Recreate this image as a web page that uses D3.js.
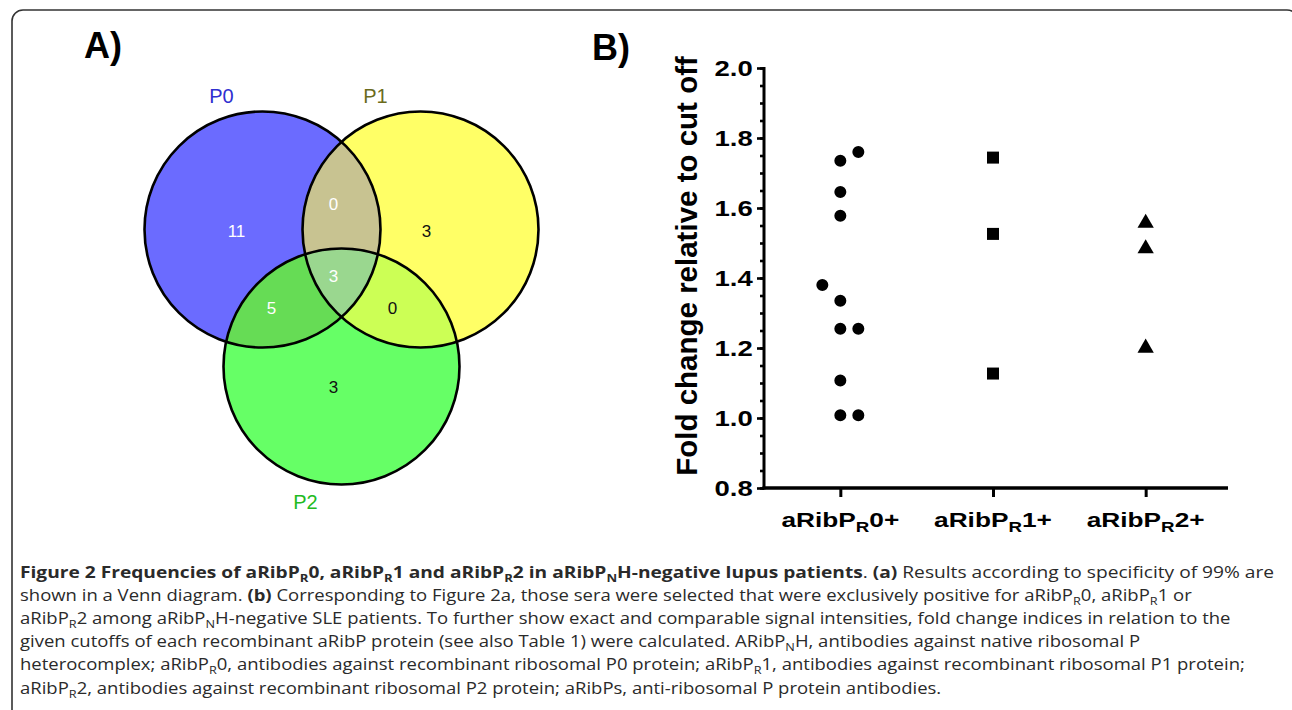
<!DOCTYPE html>
<html>
<head>
<meta charset="utf-8">
<title>Figure 2</title>
<script src="https://cdn.jsdelivr.net/npm/d3@7"></script>
<style>
  body { margin: 0; background: #fff; }
  svg { display: block; }
</style>
</head>
<body>
<div id="chart"></div>
<script>
// ---- data ----
// Venn (panel A)
var vennSets = ["P0", "P1", "P2"];
var vennSetColors = ["#6b6bff", "#ffff66", "#66ff66"];
var vennLabelColors = ["#2f2fd0", "#6b6b1c", "#22bb22"];
var vennRegions = ["P0", "P1", "P2", "P0&P1", "P0&P2", "P1&P2", "P0&P1&P2"];
var vennCounts = [11, 3, 3, 0, 5, 0, 3];

// scatter (panel B)
var groups = ["aRibP_{R}0+", "aRibP_{R}1+", "aRibP_{R}2+"];
var p0Values = [1.735, 1.76, 1.646, 1.578, 1.38, 1.335, 1.255, 1.255, 1.107, 1.008, 1.008];
var p0Column = [0, 1, 0, 0, -1, 0, 0, 1, 0, 0, 1];
var p1Values = [1.744, 1.526, 1.127];
var p2Values = [1.557, 1.484, 1.2];
var yMajorTicks = [0.8, 1.0, 1.2, 1.4, 1.6, 1.8, 2.0];
var yMinorTicks = d3.range(16, 41).map(function(d) { return d / 20; });

var caption = [
  "**Figure 2 Frequencies of aRibP_{R}0, aRibP_{R}1 and aRibP_{R}2 in aRibP_{N}H-negative lupus patients**. **(a)** Results according to specificity of 99% are",
  "shown in a Venn diagram. **(b)** Corresponding to Figure 2a, those sera were selected that were exclusively positive for aRibP_{R}0, aRibP_{R}1 or",
  "aRibP_{R}2 among aRibP_{N}H-negative SLE patients. To further show exact and comparable signal intensities, fold change indices in relation to the",
  "given cutoffs of each recombinant aRibP protein (see also Table 1) were calculated. ARibP_{N}H, antibodies against native ribosomal P",
  "heterocomplex; aRibP_{R}0, antibodies against recombinant ribosomal P0 protein; aRibP_{R}1, antibodies against recombinant ribosomal P1 protein;",
  "aRibP_{R}2, antibodies against recombinant ribosomal P2 protein; aRibPs, anti-ribosomal P protein antibodies."
];

var W = 1292, H = 710;
var svg = d3.select("#chart").append("svg")
  .attr("width", W).attr("height", H);

// frame
svg.append("rect")
  .attr("x", 12).attr("y", 10)
  .attr("width", 1286).attr("height", 760)
  .attr("rx", 11)
  .attr("fill", "none").attr("stroke", "#333").attr("stroke-width", 1.6);

var arial = "'Liberation Sans', Arial, sans-serif";

// text with _{sub} and **bold** markup
function richText(sel, str, subSize, subShift, boldWeight) {
  var bold = false, pending = 0;
  str.split(/(\*\*|_\{[^}]*\})/).forEach(function(part) {
    if (!part) return;
    if (part === "**") { bold = !bold; return; }
    var sub = part.charAt(0) === "_";
    var ts = sel.append("tspan")
      .attr("font-weight", bold ? (boldWeight || "bold") : null)
      .text(sub ? part.slice(2, -1) : part);
    if (sub) {
      ts.attr("dy", subShift).attr("font-size", subSize);
      pending = -subShift;
    } else if (pending) {
      ts.attr("dy", pending);
      pending = 0;
    }
  });
}

// ---------- Panel A : Venn ----------
svg.append("text").attr("x", 84).attr("y", 58)
  .attr("font-family", arial).attr("font-weight", "bold").attr("font-size", 36)
  .text("A)");

// circle layout: three equal circles in a triangle
var vr = 118, vcx = 341.5, vcy = 229.5, vdx = 79, vdy = 137;
var circles = [
  {cx: vcx - vdx, cy: vcy},
  {cx: vcx + vdx, cy: vcy},
  {cx: vcx, cy: vcy + vdy}
];

var defs = svg.append("defs");
circles.forEach(function(c, i) {
  defs.append("clipPath").attr("id", "clip" + i)
    .append("circle").attr("cx", c.cx).attr("cy", c.cy).attr("r", vr);
});

var venn = svg.append("g");
venn.selectAll("circle.set").data(circles).enter().append("circle")
  .attr("class", "set")
  .attr("cx", function(d) { return d.cx; })
  .attr("cy", function(d) { return d.cy; })
  .attr("r", vr)
  .attr("fill", function(d, i) { return vennSetColors[i]; });

// overlaps
var overlapFill = {"P0&P1": "#c8c391", "P0&P2": "#66dc55", "P1&P2": "#ccff55", "P0&P1&P2": "#9ad78f"};
function overlap(a, b, fill) {
  venn.append("circle")
    .attr("cx", circles[b].cx).attr("cy", circles[b].cy).attr("r", vr)
    .attr("clip-path", "url(#clip" + a + ")")
    .attr("fill", fill);
}
overlap(0, 1, overlapFill["P0&P1"]);
overlap(0, 2, overlapFill["P0&P2"]);
overlap(1, 2, overlapFill["P1&P2"]);
venn.append("g").attr("clip-path", "url(#clip0)")
  .append("circle")
    .attr("cx", circles[2].cx).attr("cy", circles[2].cy).attr("r", vr)
    .attr("clip-path", "url(#clip1)")
    .attr("fill", overlapFill["P0&P1&P2"]);

// outlines
venn.selectAll("circle.outline").data(circles).enter().append("circle")
  .attr("class", "outline")
  .attr("cx", function(d) { return d.cx; })
  .attr("cy", function(d) { return d.cy; })
  .attr("r", vr)
  .attr("fill", "none").attr("stroke", "#000").attr("stroke-width", 2.6);

// set names
var setLabelPos = [
  [circles[0].cx - 41, circles[0].cy - 127],
  [circles[1].cx - 45, circles[1].cy - 127],
  [circles[2].cx - 36, circles[2].cy + 142]
];
venn.selectAll("text.setname").data(vennSets).enter().append("text")
  .attr("x", function(d, i) { return setLabelPos[i][0]; })
  .attr("y", function(d, i) { return setLabelPos[i][1]; })
  .attr("text-anchor", "middle")
  .attr("font-family", arial).attr("font-size", 20)
  .attr("fill", function(d, i) { return vennLabelColors[i]; })
  .text(function(d) { return d; });

// region counts
var regionPos = {
  "P0": [circles[0].cx - 26, vcy + 7],
  "P1": [circles[1].cx + 6, vcy + 7],
  "P2": [vcx - 8, circles[2].cy + 26],
  "P0&P1": [vcx - 8, vcy - 20],
  "P0&P2": [vcx - 70, vcy + 84],
  "P1&P2": [vcx + 51, vcy + 84],
  "P0&P1&P2": [vcx - 8, vcy + 52]
};
var darkText = {"P1": true, "P2": true, "P1&P2": true};
venn.selectAll("text.count").data(vennRegions).enter().append("text")
  .attr("x", function(d) { return regionPos[d][0]; })
  .attr("y", function(d) { return regionPos[d][1]; })
  .attr("text-anchor", "middle")
  .attr("font-family", arial).attr("font-size", 17)
  .attr("fill", function(d) { return darkText[d] ? "#111" : "#fff"; })
  .text(function(d, i) { return vennCounts[i]; });

// ---------- Panel B : scatter ----------
svg.append("text").attr("x", 592).attr("y", 60)
  .attr("font-family", arial).attr("font-weight", "bold").attr("font-size", 36)
  .text("B)");

var plot = {left: 764, right: 1228, top: 68, bottom: 488};
var stretch = 1.25;   // labels in the source are drawn wide

var y = d3.scaleLinear().domain([0.8, 2.0]).range([plot.bottom, plot.top]);
var x = d3.scalePoint().domain(groups).range([plot.left, plot.right - 6]).padding(0.5);
var jitter = d3.scalePoint().domain([-1, 0, 1]).range([-18, 18]);

var gB = svg.append("g");

// minor ticks
gB.append("g")
  .attr("transform", "translate(" + plot.left + ",0)")
  .call(d3.axisLeft(y).tickValues(yMinorTicks).tickSize(4).tickFormat(""))
  .call(function(g) { g.select(".domain").remove(); g.selectAll("text").remove(); })
  .selectAll("line").attr("stroke", "#000").attr("stroke-width", 2.6);

// major ticks + labels
var yAxis = gB.append("g")
  .attr("transform", "translate(" + plot.left + ",0)")
  .call(d3.axisLeft(y).tickValues(yMajorTicks).tickSize(7).tickPadding(2)
    .tickFormat(d3.format(".1f")));
yAxis.select(".domain").remove();
yAxis.selectAll("line").attr("stroke", "#000").attr("stroke-width", 2.6);
yAxis.selectAll("text")
  .attr("font-family", arial).attr("font-weight", "bold").attr("font-size", 22)
  .attr("fill", "#000")
  .attr("transform", "scale(" + stretch + ",1)");

// axis lines
gB.append("line")
  .attr("x1", plot.left).attr("x2", plot.left)
  .attr("y1", y(2.0) - 1).attr("y2", plot.bottom + 1.5)
  .attr("stroke", "#000").attr("stroke-width", 3);
gB.append("line")
  .attr("x1", plot.left - 1.5).attr("x2", plot.right)
  .attr("y1", plot.bottom).attr("y2", plot.bottom)
  .attr("stroke", "#000").attr("stroke-width", 3.5);

// x ticks
var xAxis = gB.append("g")
  .attr("transform", "translate(0," + (plot.bottom + 1) + ")")
  .call(d3.axisBottom(x).tickSize(8).tickFormat(""));
xAxis.select(".domain").remove();
xAxis.selectAll("text").remove();
xAxis.selectAll("line").attr("stroke", "#000").attr("stroke-width", 3);

// x labels with subscripts
groups.forEach(function(gname) {
  var t = gB.append("g")
    .attr("transform", "translate(" + x(gname) + "," + 527 + ")")
    .append("text")
      .attr("transform", "scale(" + stretch + ",1)")
      .attr("text-anchor", "middle")
      .attr("font-family", arial).attr("font-weight", "bold").attr("font-size", 21);
  richText(t, gname, 15, 5);
});

// y title
gB.append("text")
  .attr("transform", "translate(697," + ((plot.top + plot.bottom) / 2 - 12) + ") rotate(-90)")
  .attr("text-anchor", "middle")
  .attr("font-family", arial).attr("font-weight", "bold").attr("font-size", 29.5)
  .text("Fold change relative to cut off");

// points
var pts = [];
p0Values.forEach(function(v, i) { pts.push({g: groups[0], v: v, c: p0Column[i], s: d3.symbolCircle}); });
p1Values.forEach(function(v) { pts.push({g: groups[1], v: v, c: 0, s: d3.symbolSquare}); });
p2Values.forEach(function(v) { pts.push({g: groups[2], v: v, c: 0, s: d3.symbolTriangle}); });
var symSize = new Map([[d3.symbolCircle, 113], [d3.symbolSquare, 144], [d3.symbolTriangle, 115]]);

gB.selectAll("path.pt").data(pts).enter().append("path")
  .attr("class", "pt")
  .attr("transform", function(d) {
    return "translate(" + (x(d.g) + jitter(d.c)) + "," + y(d.v) + ")";
  })
  .attr("d", function(d) { return d3.symbol().type(d.s).size(symSize.get(d.s))(); })
  .attr("fill", "#000");

// ---------- caption ----------
// the source face is narrower than Open Sans: squeeze horizontally.
// bold first line is fitted to the frame, the rest share the last line's factor.
var capG = svg.append("g")
  .attr("font-family", "'Open Sans', 'Noto Sans', sans-serif")
  .attr("font-size", 16).attr("fill", "#2a2a2a");
var capLines = caption.map(function(line) {
  var t = capG.append("text").attr("x", 0).attr("y", 0);
  richText(t, line, 11, 4, 700);
  return t;
});
var firstScale = 1255 / capLines[0].node().getComputedTextLength();
var restScale = 922 / capLines[caption.length - 1].node().getComputedTextLength();
capLines.forEach(function(t, li) {
  t.attr("transform", "translate(20," + (578 + li * 23.1) + ") scale(" +
    (li === 0 ? firstScale : restScale) + ",1)");
});
</script>
</body>
</html>
